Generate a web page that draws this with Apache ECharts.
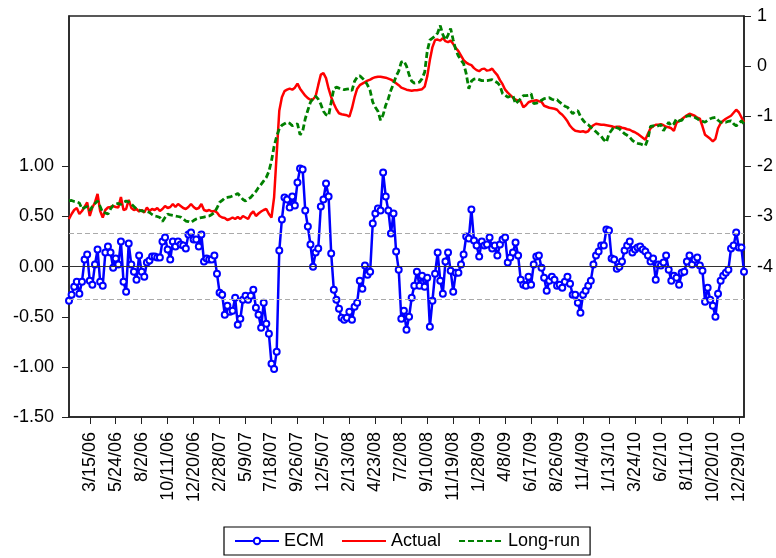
<!DOCTYPE html>
<html>
<head>
<meta charset="utf-8">
<script src="https://cdn.jsdelivr.net/npm/echarts@6/dist/echarts.min.js"></script>
<style>
  html, body { margin: 0; padding: 0; background: #fff; }
  #main { width: 776px; height: 558px; }
</style>
</head>
<body>
<div id="main"></div>
<script>
// weekly dates, Wednesdays from 1/18/06 to 1/12/11
var dates = [];
(function () {
  var t = Date.UTC(2006, 0, 18);
  for (var i = 0; i < 261; i++) {
    var d = new Date(t + i * 7 * 86400000);
    dates.push((d.getUTCMonth() + 1) + '/' + d.getUTCDate() + '/' + String(d.getUTCFullYear()).slice(2));
  }
})();

var ecm = [
  -0.34, -0.28, -0.20, -0.15, -0.27, -0.15, 0.07, 0.12, -0.14, -0.18,
  0.02, 0.17, -0.15, -0.19, 0.14, 0.20, 0.14, -0.01, 0.08, 0.02,
  0.25, -0.15, -0.25, 0.23, 0.02, -0.05, -0.13, 0.11, -0.05, -0.10,
  0.04, 0.06, 0.10, 0.10, 0.09, 0.09, 0.25, 0.29, 0.17, 0.07,
  0.25, 0.20, 0.25, 0.22, 0.21, 0.18, 0.32, 0.34, 0.27, 0.27,
  0.20, 0.32, 0.05, 0.08, 0.07, 0.07, 0.11, -0.07, -0.26, -0.28,
  -0.48, -0.39, -0.45, -0.44, -0.31, -0.58, -0.52, -0.33, -0.29, -0.33,
  -0.29, -0.23, -0.41, -0.48, -0.61, -0.36, -0.57, -0.67, -0.97, -1.02,
  -0.85, 0.16, 0.47, 0.69, 0.67, 0.59, 0.70, 0.61, 0.84, 0.98,
  0.97, 0.56, 0.40, 0.22, 0.00, 0.14, 0.18, 0.60, 0.67, 0.83,
  0.70, 0.13, -0.23, -0.33, -0.42, -0.51, -0.53, -0.51, -0.45, -0.53,
  -0.40, -0.36, -0.14, -0.22, 0.01, -0.08, -0.05, 0.43, 0.53, 0.58,
  0.56, 0.94, 0.70, 0.56, 0.33, 0.53, 0.15, -0.03, -0.52, -0.44,
  -0.63, -0.50, -0.31, -0.19, -0.05, -0.19, -0.09, -0.20, -0.11, -0.60,
  -0.34, -0.07, 0.14, -0.14, -0.27, 0.05, 0.14, -0.04, -0.25, -0.06,
  -0.06, 0.02, 0.12, 0.30, 0.28, 0.57, 0.26, 0.21, 0.10, 0.25,
  0.21, 0.22, 0.29, 0.18, 0.21, 0.11, 0.22, 0.27, 0.29, 0.04,
  0.09, 0.14, 0.24, 0.11, -0.13, -0.18, -0.19, -0.10, -0.18, 0.02,
  0.10, 0.11, -0.01, -0.11, -0.24, -0.14, -0.10, -0.13, -0.19, -0.18,
  -0.21, -0.15, -0.10, -0.17, -0.28, -0.28, -0.36, -0.46, -0.28, -0.24,
  -0.19, -0.14, 0.02, 0.11, 0.15, 0.21, 0.21, 0.37, 0.36, 0.08,
  0.07, -0.02, 0.00, 0.05, 0.16, 0.21, 0.25, 0.14, 0.17, 0.19,
  0.20, 0.17, 0.15, 0.11, 0.05, 0.08, -0.13, 0.02, 0.01, 0.04,
  0.11, -0.03, -0.14, -0.09, -0.11, -0.18, -0.06, -0.05, 0.05, 0.11,
  0.02, 0.07, 0.09, 0.01, -0.04, -0.35, -0.21, -0.33, -0.39, -0.50,
  -0.27, -0.14, -0.09, -0.06, -0.03, 0.18, 0.21, 0.34, 0.19, 0.19,
  -0.05
];

var actual = [
  -3.05, -2.95, -2.87, -2.83, -2.95, -2.89, -2.81, -2.72, -2.99, -2.82,
  -2.72, -2.55, -2.89, -3.02, -2.87, -2.82, -2.81, -2.79, -2.81, -2.82,
  -2.61, -2.87, -2.85, -2.67, -2.83, -2.87, -2.85, -2.90, -2.87, -2.92,
  -2.82, -2.89, -2.85, -2.87, -2.83, -2.89, -2.85, -2.79, -2.83, -2.81,
  -2.75, -2.81, -2.75, -2.79, -2.83, -2.85, -2.81, -2.75, -2.81, -2.85,
  -2.83, -2.75, -2.87, -2.89, -2.87, -2.90, -2.89, -2.92, -2.99, -3.02,
  -3.03, -3.07, -3.05, -3.02, -3.05, -3.01, -3.05, -2.99, -3.02, -3.05,
  -2.95, -2.90, -2.99, -2.94, -2.90, -2.87, -2.85, -2.95, -3.02, -2.62,
  -1.75, -0.89, -0.62, -0.50, -0.47, -0.45, -0.47, -0.43, -0.35, -0.45,
  -0.52, -0.59, -0.64, -0.67, -0.66, -0.60, -0.38, -0.17, -0.14, -0.24,
  -0.45, -0.62, -0.75, -0.86, -0.94, -0.96, -0.97, -0.98, -1.01, -0.84,
  -0.62, -0.45, -0.38, -0.35, -0.32, -0.29, -0.27, -0.24, -0.22, -0.21,
  -0.21, -0.22, -0.23, -0.25, -0.27, -0.30, -0.34, -0.38, -0.43, -0.45,
  -0.47, -0.48, -0.49, -0.48, -0.48, -0.47, -0.46, -0.41, -0.20, 0.12,
  0.38, 0.52, 0.53, 0.51, 0.56, 0.50, 0.48, 0.51, 0.44, 0.36,
  0.30, 0.21, 0.12, 0.07, 0.04, 0.02, -0.04, -0.08, -0.10, -0.06,
  -0.05, -0.09, -0.08, -0.05, -0.12, -0.18, -0.28, -0.36, -0.47, -0.53,
  -0.58, -0.63, -0.67, -0.69, -0.70, -0.82, -0.78, -0.72, -0.70, -0.69,
  -0.68, -0.70, -0.71, -0.79, -0.81, -0.83, -0.84, -0.85, -0.87, -0.93,
  -0.97, -1.03, -1.10, -1.19, -1.25, -1.29, -1.30, -1.31, -1.30, -1.32,
  -1.30, -1.22, -1.18, -1.15, -1.16, -1.17, -1.17, -1.18, -1.19, -1.20,
  -1.22, -1.21, -1.21, -1.23, -1.24, -1.26, -1.27, -1.30, -1.32, -1.35,
  -1.39, -1.43, -1.47, -1.35, -1.24, -1.20, -1.17, -1.17, -1.16, -1.18,
  -1.21, -1.22, -1.24, -1.29, -1.13, -1.10, -1.06, -1.02, -0.98, -0.95,
  -0.97, -0.99, -1.03, -1.05, -1.20, -1.37, -1.41, -1.45, -1.50, -1.45,
  -1.24, -1.14, -1.09, -1.05, -1.02, -0.99, -0.93, -0.87, -0.92, -1.02,
  -1.12
];

var longRun = [
  -2.69, -2.68, -2.70, -2.71, -2.73, -2.85, -2.82, -2.80, -2.88, -2.80,
  -2.74, -2.69, -2.80, -2.92, -2.93, -2.95, -2.85, -2.78, -2.75, -2.74,
  -2.76, -2.72, -2.69, -2.71, -2.75, -2.80, -2.85, -2.87, -2.89, -2.90,
  -2.90, -2.92, -2.96, -2.99, -3.00, -3.02, -3.10, -3.02, -2.95, -2.97,
  -2.98, -2.99, -3.00, -3.01, -3.05, -3.09, -3.10, -3.12, -3.08, -3.05,
  -3.03, -3.02, -3.01, -3.00, -2.99, -2.96, -2.92, -2.83, -2.72, -2.68,
  -2.63, -2.62, -2.61, -2.59, -2.57, -2.54, -2.60, -2.66, -2.69, -2.65,
  -2.62, -2.56, -2.50, -2.42, -2.36, -2.29, -2.22, -2.10, -1.89, -1.60,
  -1.40, -1.25, -1.18, -1.15, -1.12, -1.14, -1.19, -1.17, -1.15, -1.37,
  -1.30, -1.05, -0.88, -0.72, -0.65, -0.60, -0.66, -0.76, -0.90, -0.97,
  -0.99, -0.72, -0.45, -0.42, -0.44, -0.45, -0.47, -0.46, -0.45, -0.49,
  -0.30, -0.22, -0.19, -0.24, -0.29, -0.38, -0.49, -0.72, -0.82, -0.90,
  -1.08, -0.97, -0.78, -0.65, -0.48, -0.35, -0.20, -0.10, 0.08, 0.10,
  0.00, -0.17, -0.30, -0.34, -0.33, -0.32, -0.25, -0.12, 0.30, 0.52,
  0.56, 0.60, 0.66, 0.81, 0.63, 0.52, 0.62, 0.75, 0.52, 0.32,
  0.20, 0.12, 0.05, -0.15, -0.45, -0.30, -0.26, -0.25, -0.27, -0.29,
  -0.29, -0.29, -0.28, -0.27, -0.30, -0.33, -0.39, -0.55, -0.58, -0.62,
  -0.60, -0.59, -0.75, -0.70, -0.65, -0.59, -0.59, -0.58, -0.55, -0.75,
  -0.74, -0.72, -0.68, -0.65, -0.64, -0.63, -0.66, -0.68, -0.67, -0.72,
  -0.76, -0.80, -0.82, -0.88, -0.95, -0.90, -0.89, -1.00, -1.08, -1.14,
  -1.17, -1.22, -1.26, -1.31, -1.36, -1.40, -1.47, -1.52, -1.35, -1.28,
  -1.21, -1.23, -1.25, -1.30, -1.35, -1.38, -1.42, -1.48, -1.52, -1.54,
  -1.55, -1.57, -1.59, -1.45, -1.20, -1.19, -1.21, -1.19, -1.17, -1.29,
  -1.20, -1.12, -1.19, -1.15, -1.05, -1.09, -1.08, -1.02, -1.00, -0.99,
  -1.00, -1.02, -1.05, -1.09, -1.10, -1.12, -1.08, -1.05, -1.03, -1.02,
  -1.08, -1.12, -1.12, -1.12, -1.10, -1.09, -1.15, -1.19, -1.15, -1.09,
  -1.15
];

var leftTicks = [-1.5, -1, -0.5, 0, 0.5, 1];
var rightTicks = [-4, -3, -2, -1, 0, 1];
var bandLines = [0.33, -0.33];

var font = '"Liberation Sans", Arial, sans-serif';
var frame = '#222';

function showDate(index) {
  return index % 10 === 8;
}

var chart = echarts.init(document.getElementById('main'), null, { renderer: 'canvas' });

var option = {
  animation: false,
  backgroundColor: '#fff',
  textStyle: { fontFamily: font, color: '#000' },
  grid: {
    left: 69, top: 16, right: 29, bottom: 141,
    show: true, borderColor: frame, borderWidth: 1.5, backgroundColor: 'transparent'
  },
  legend: {
    data: [
      { name: 'ECM' },
      { name: 'Actual', itemStyle: { opacity: 0 } },
      { name: 'Long-run', itemStyle: { opacity: 0 } }
    ],
    left: 224, top: 527,
    padding: [5, 10, 5, 10],
    itemWidth: 44, itemHeight: 8, itemGap: 17,
    borderColor: '#000', borderWidth: 1.2,
    textStyle: { fontFamily: font, fontSize: 18, color: '#000' }
  },
  xAxis: {
    type: 'category',
    data: dates,
    boundaryGap: false,
    axisLine: { onZero: false, lineStyle: { color: frame, width: 1.5 } },
    axisTick: { interval: showDate, length: 7, lineStyle: { color: frame, width: 1 } },
    axisLabel: {
      interval: showDate, rotate: 90, margin: 15,
      fontFamily: font, fontSize: 18, color: '#000'
    },
    splitLine: { show: false }
  },
  yAxis: [{
    type: 'value',
    min: -1.5, max: 2.5, interval: 0.5,
    position: 'left',
    axisLine: { show: true, lineStyle: { color: frame, width: 1.5 } },
    axisTick: { show: true, length: 7, customValues: leftTicks, lineStyle: { color: frame } },
    axisLabel: {
      customValues: leftTicks, margin: 15,
      fontFamily: font, fontSize: 18, color: '#000',
      formatter: function (v) { return v.toFixed(2); }
    },
    splitLine: { show: false }
  }, {
    type: 'value',
    min: -7, max: 1, interval: 1,
    position: 'right',
    axisLine: { show: true, lineStyle: { color: frame, width: 1.5 } },
    axisTick: { show: true, length: 7, customValues: rightTicks, lineStyle: { color: frame } },
    axisLabel: {
      customValues: rightTicks, margin: 13,
      fontFamily: font, fontSize: 18, color: '#000'
    },
    splitLine: { show: false }
  }],
  series: [{
    name: 'ECM',
    type: 'line',
    yAxisIndex: 0,
    data: ecm,
    symbol: 'emptyCircle',
    symbolSize: 6,
    showAllSymbol: true,
    color: '#0000ff',
    lineStyle: { color: '#0000ff', width: 2.5 },
    itemStyle: { color: '#0000ff', borderColor: '#0000ff', borderWidth: 1.5 },
    z: 3,
    markLine: {
      silent: true,
      symbol: ['none', 'none'],
      label: { show: false },
      data: [
        { yAxis: 0, lineStyle: { type: 'solid', color: '#333', width: 1.2 } },
        { yAxis: bandLines[0], lineStyle: { type: [5, 3], color: '#aaa', width: 1 } },
        { yAxis: bandLines[1], lineStyle: { type: [5, 3], color: '#aaa', width: 1 } }
      ]
    }
  }, {
    name: 'Actual',
    type: 'line',
    yAxisIndex: 1,
    data: actual,
    symbol: 'none',
    color: '#ff0000',
    lineStyle: { color: '#ff0000', width: 2.5 },
    z: 2
  }, {
    name: 'Long-run',
    type: 'line',
    yAxisIndex: 1,
    data: longRun,
    symbol: 'none',
    color: '#008000',
    lineStyle: { color: '#008000', width: 2.8, type: [6, 3] },
    z: 2
  }]
};

chart.setOption(option);
</script>
</body>
</html>
